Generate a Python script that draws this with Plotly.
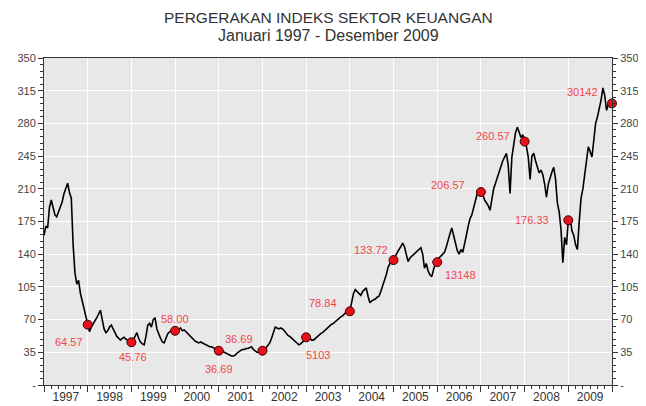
import plotly.graph_objects as go

years = list(range(1997, 2010))
start_value = 160
# half-monthly index values (24 per year, mid-month and month-end)
half_monthly = {
    1997: [170, 168, 190, 198, 188, 182, 180, 185, 192, 196, 205, 210, 216, 206, 200, 150, 120, 108, 112, 98, 90, 80, 72, 64.57],
    1998: [57, 62, 65, 68, 72, 76, 80, 70, 60, 56, 58, 62, 64, 60, 56, 52, 50, 48, 50, 51, 49, 48, 47, 45.76],
    1999: [48, 52, 56, 50, 46, 44, 43, 52, 64, 66, 62, 70, 72, 60, 54, 50, 46, 45, 50, 55, 57, 59, 60, 58.00],
    2000: [60, 59, 61, 58, 59, 57, 55, 52, 50, 48, 47, 46, 45, 46, 45, 44, 43, 42, 41, 41, 40, 39, 38, 36.69],
    2001: [36, 36, 35, 34, 33, 32, 31, 31, 32, 34, 36, 37, 38, 38, 39, 39, 40, 41, 38, 36, 35, 35, 36, 36.69],
    2002: [38, 40, 43, 45, 50, 56, 62, 61, 60, 61, 60, 58, 55, 53, 52, 50, 48, 47, 45, 43, 44, 46, 49, 51.03],
    2003: [52, 50, 48, 48, 50, 52, 54, 55, 56, 58, 60, 62, 63, 65, 66, 68, 70, 71, 73, 74, 76, 77, 80, 78.84],
    2004: [88, 98, 102, 100, 98, 96, 100, 102, 104, 95, 88, 90, 91, 92, 94, 95, 100, 106, 110, 118, 126, 130, 132, 133.72],
    2005: [138, 142, 145, 148, 152, 148, 140, 132, 136, 138, 140, 141, 144, 146, 147, 140, 125, 130, 122, 118, 116, 124, 130, 131.48],
    2006: [136, 138, 140, 142, 148, 156, 162, 168, 160, 150, 144, 140, 145, 142, 150, 160, 170, 178, 182, 190, 198, 205, 208, 206.57],
    2007: [204, 198, 195, 192, 187, 200, 210, 216, 222, 230, 235, 240, 244, 248, 235, 205, 244, 255, 270, 276, 270, 265, 268, 260.57],
    2008: [255, 244, 220, 245, 248, 240, 232, 227, 230, 225, 215, 201, 215, 223, 228, 233, 220, 195, 185, 166, 131, 158, 150, 176.33],
    2009: [178, 165, 160, 150, 145, 175, 200, 210, 225, 240, 255, 250, 244, 262, 280, 287, 295, 305, 318, 310, 294, 300, 302, 301.42],
}
year_end_values = [64.57, 45.76, 58.00, 36.69, 36.69, 51.03, 78.84, 133.72, 131.48, 206.57, 260.57, 176.33, 301.42]
year_end_labels = ["64.57", "45.76", "58.00", "36.69", "36.69", "5103", "78.84", "133.72", "13148", "206.57", "260.57", "176.33", "30142"]
y_ticks = [0, 35, 70, 105, 140, 175, 210, 245, 280, 315, 350]
y_tick_text = ["-", "35", "70", "105", "140", "175", "210", "245", "280", "315", "350"]
title_text = "PERGERAKAN INDEKS SEKTOR KEUANGAN"
subtitle_text = "Januari 1997 - Desember 2009"

xs = [1997.0]
ys = [start_value]
for y in years:
    for k, v in enumerate(half_monthly[y], start=1):
        xs.append(y + k / 24)
        ys.append(v)

marker_x = [y + 1.0 for y in years]

# label pixel offsets (style)
offsets = [(-19, -17), (2, -15), (0, 12), (0, -18), (-23, 12), (12, -18), (-27, 8),
           (-23, 10), (23, -13), (-33, 7), (-32, 6), (-36, 0), (-30, 11)]

FONT = "Liberation Sans, Arial"
fig = go.Figure()
fig.add_trace(go.Scatter(x=xs, y=ys, mode="lines", line=dict(color="black", width=1.6),
                         hoverinfo="skip", showlegend=False))
fig.add_trace(go.Scatter(x=marker_x, y=year_end_values, mode="markers", cliponaxis=False,
                         marker=dict(color="#E8101A", size=9, line=dict(color="#3a0000", width=1)),
                         showlegend=False))
fig.add_trace(go.Scatter(x=[1997, 2010], y=[0, 350], yaxis="y2", xaxis="x2", mode="markers",
                         marker=dict(opacity=0), showlegend=False, hoverinfo="skip"))

for (mx, my, txt, (dx, dy)) in zip(marker_x, year_end_values, year_end_labels, offsets):
    fig.add_annotation(x=mx, y=my, text=txt, showarrow=False, xshift=dx, yshift=dy,
                       font=dict(color="#F0474B", size=11, family=FONT))

fig.add_annotation(text=title_text, xref="paper", yref="paper", x=0.5, y=1, yshift=41,
                   xanchor="center", yanchor="middle", showarrow=False,
                   font=dict(family=FONT, size=15.5, color="#333333"))
fig.add_annotation(text=subtitle_text, xref="paper", yref="paper", x=0.5, y=1, yshift=23,
                   xanchor="center", yanchor="middle", showarrow=False,
                   font=dict(family=FONT, size=16, color="#333333"))

axis_font = dict(family=FONT, size=11, color="#444444")
minor_y = dict(dtick=7, ticks="outside", ticklen=3, tickcolor="#333", showgrid=False)
fig.update_layout(
    width=638, height=398,
    margin=dict(l=36, r=34, t=50, b=21, autoexpand=False),
    paper_bgcolor="white", plot_bgcolor="#E8E8E8",
    xaxis=dict(range=[1997, 2010], tickvals=list(range(1997, 2011)), showticklabels=False,
               showgrid=True, gridcolor="white", gridwidth=1.2, ticks="outside", ticklen=6,
               tickcolor="#333", showline=True, linecolor="#333", mirror=True, zeroline=False,
               automargin=False,
               minor=dict(dtick=1/6, tick0=1997, ticks="outside", ticklen=3, tickcolor="#333", showgrid=False)),
    xaxis2=dict(range=[1997, 2010], overlaying="x", side="bottom", tickvals=[y + 0.5 for y in years],
                ticktext=[str(y) for y in years], ticks="", showgrid=False, showline=False,
                zeroline=False, tickfont=dict(family=FONT, size=12, color="#333333"), anchor="y",
                automargin=False, ticklabelstandoff=3),
    yaxis=dict(range=[0, 350], tickvals=y_ticks, ticktext=y_tick_text, showgrid=True, gridcolor="white",
               gridwidth=1.2, ticks="outside", ticklen=5, tickcolor="#333", showline=True, linecolor="#333",
               mirror=True, zeroline=False, tickfont=axis_font, automargin=False, minor=minor_y),
    yaxis2=dict(range=[0, 350], tickvals=y_ticks, ticktext=y_tick_text, overlaying="y", side="right",
                showgrid=False, ticks="outside", ticklen=5, tickcolor="#333", zeroline=False,
                tickfont=axis_font, anchor="x", automargin=False, minor=minor_y),
)
fig.write_html("out.html")
